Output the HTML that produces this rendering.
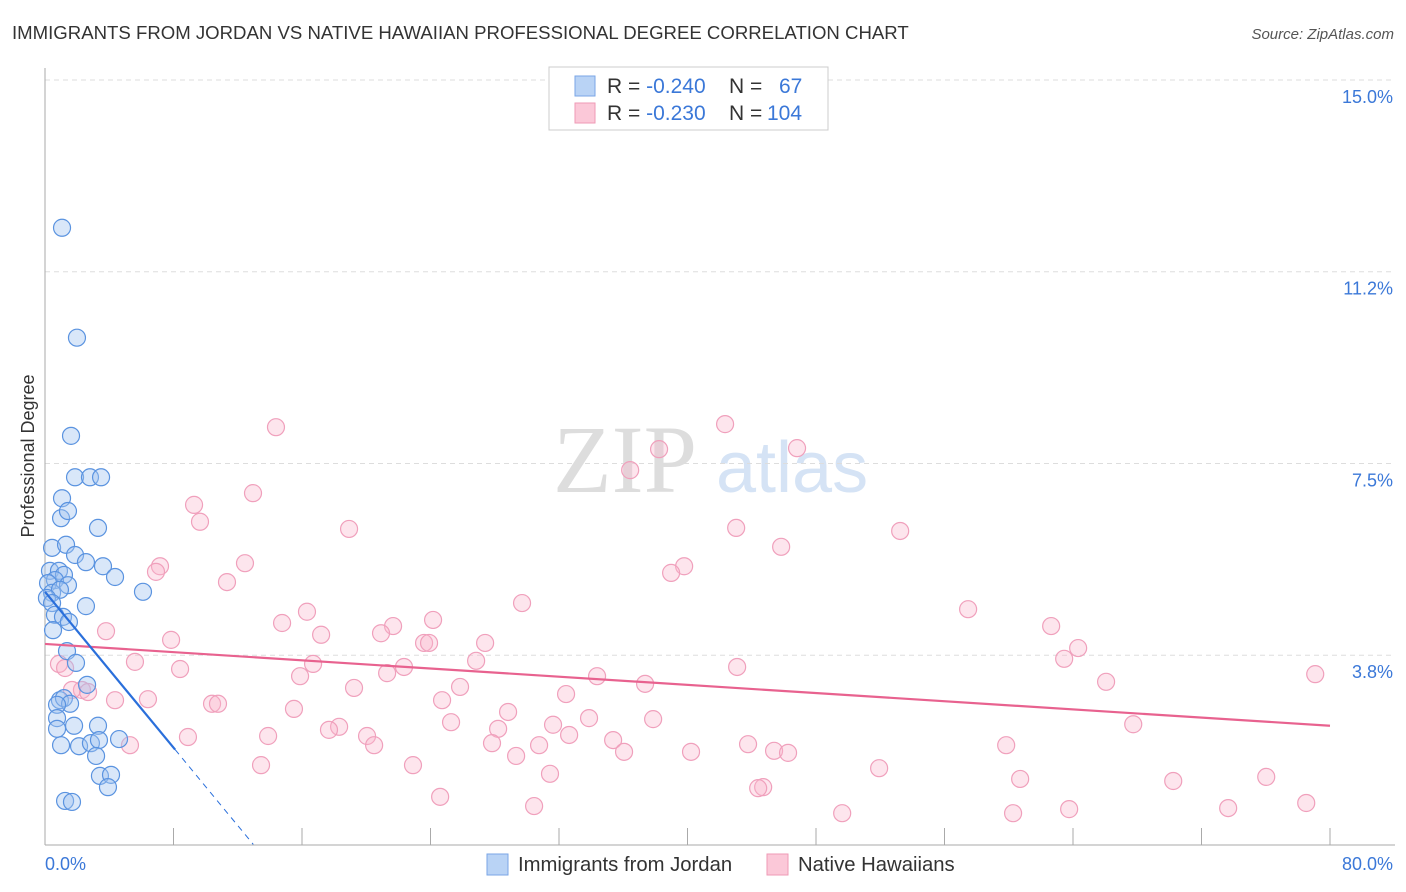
<!DOCTYPE html>
<html><head><meta charset="utf-8"><style>
body{margin:0;background:#fff;font-family:"Liberation Sans",sans-serif;}
svg{display:block}
</style></head><body>
<svg id="chart" width="1406" height="892">
<text x="12" y="39" font-size="18.6" fill="#333">IMMIGRANTS FROM JORDAN VS NATIVE HAWAIIAN PROFESSIONAL DEGREE CORRELATION CHART</text>
<text x="1394" y="39" font-size="15" fill="#555" font-style="italic" text-anchor="end">Source: ZipAtlas.com</text>
<g>
<text x="553" y="492" font-size="96" font-family="Liberation Serif,serif" fill="#ddd">ZIP</text>
<text x="716" y="492" font-size="72" fill="#d5e3f5">atlas</text>
</g>
<g id="grid"></g>
<g id="axes"></g>
<g id="pts"></g>
<g id="trend"></g>
<g>
<rect x="549" y="67" width="279" height="63" fill="#fff" stroke="#ccc"/>
<rect x="575" y="76" width="20" height="20" fill="#b9d3f5" stroke="#7aa6e6"/>
<rect x="575" y="103" width="20" height="20" fill="#fbc8d8" stroke="#ef9ab6"/>
<text x="607" y="93" font-size="21" fill="#333">R = <tspan fill="#3b78d8">-0.240</tspan><tspan x="729">N = </tspan><tspan x="779" fill="#3b78d8">67</tspan></text>
<text x="607" y="120" font-size="21" fill="#333">R = <tspan fill="#3b78d8">-0.230</tspan><tspan x="729">N = </tspan><tspan x="767" fill="#3b78d8">104</tspan></text>
</g>
<g>
<rect x="487" y="854" width="21" height="21" fill="#b9d3f5" stroke="#7aa6e6"/>
<text x="518" y="871" font-size="20.3" fill="#333">Immigrants from Jordan</text>
<rect x="767" y="854" width="21" height="21" fill="#fbc8d8" stroke="#ef9ab6"/>
<text x="798" y="871" font-size="20.3" fill="#333">Native Hawaiians</text>
</g>
<text transform="translate(34,456) rotate(-90)" font-size="18" fill="#333" text-anchor="middle">Professional Degree</text>
</svg>
<script>
const yTicks=[15.0,11.25,7.5,3.75];
const yTickLabels=["15.0%","11.2%","7.5%","3.8%"];
const xTickValues=[0,8,16,24,32,40,48,56,64,72,80];
const xLabels=["0.0%","80.0%"];
const blueX=[1.06,1.99,1.62,1.87,2.80,3.49,1.06,1.00,1.43,3.30,0.44,1.31,1.87,2.55,3.61,4.36,6.10,0.31,0.87,1.18,0.62,1.43,0.19,0.44,0.93,0.12,0.44,2.55,0.62,1.12,1.49,0.50,1.37,1.93,0.93,2.62,1.18,1.56,0.75,0.75,3.30,1.81,1.00,2.12,2.86,3.36,4.61,0.75,3.18,3.42,4.11,3.92,1.25,1.68];
const blueY=[12.11,9.96,8.04,7.23,7.23,7.23,6.82,6.43,6.57,6.24,5.85,5.91,5.71,5.57,5.49,5.28,4.99,5.40,5.40,5.32,5.22,5.12,5.16,4.97,5.03,4.87,4.77,4.71,4.54,4.50,4.40,4.24,3.83,3.60,2.87,3.17,2.91,2.80,2.78,2.52,2.37,2.37,1.99,1.97,2.03,2.09,2.11,2.31,1.78,1.39,1.41,1.17,0.90,0.88];
const pinkX=[14.38,42.34,38.23,46.82,36.43,9.28,12.95,9.65,18.93,43.03,53.24,45.83,12.45,7.16,6.91,39.79,38.98,11.33,29.70,57.47,16.31,24.16,14.76,21.67,17.19,20.92,62.64,3.80,7.85,23.60,23.91,27.40,64.32,63.45,16.69,22.35,21.30,26.84,5.60,8.41,0.87,1.25,43.09,15.88,34.37,79.08,37.36,66.06,25.84,19.24,2.30,2.68,1.68,4.36,6.41,24.72,32.44,10.40,10.77,15.50,37.86,31.63,33.87,28.83,25.28,28.21,18.31,17.68,67.75,20.05,32.63,8.90,13.89,35.37,27.83,43.77,20.49,30.76,59.84,5.29,40.22,45.39,46.26,36.05,29.33,22.91,13.45,51.93,31.44,60.71,70.24,76.03,44.71,44.40,24.60,63.76,78.52,73.66,30.45,49.63,60.27];
const pinkY=[8.21,8.27,7.78,7.80,7.37,6.69,6.92,6.36,6.22,6.24,6.18,5.87,5.55,5.49,5.38,5.49,5.36,5.18,4.77,4.65,4.60,4.44,4.38,4.32,4.15,4.18,4.32,4.22,4.05,3.99,3.99,3.99,3.89,3.68,3.58,3.52,3.40,3.64,3.62,3.48,3.58,3.50,3.52,3.34,3.34,3.38,3.19,3.23,3.13,3.11,3.07,3.03,3.07,2.87,2.89,2.87,2.99,2.80,2.80,2.70,2.50,2.39,2.52,2.64,2.44,2.31,2.35,2.29,2.40,2.17,2.19,2.15,2.17,2.09,2.03,2.01,1.99,1.99,1.99,1.99,1.86,1.88,1.84,1.86,1.78,1.60,1.60,1.54,1.43,1.33,1.29,1.37,1.17,1.15,0.98,0.74,0.86,0.76,0.80,0.66,0.66];
const blueTrend=[4.99,-0.381]; // intercept, slope
const blueSolidEnd=8.1;
const pinkTrend=[3.97,-0.02];
const NS="http://www.w3.org/2000/svg";
const sx=v=>45+v*16.0625;
const sy=v=>80+(15-v)*51.13;
function mk(tag,attrs,parent){const e=document.createElementNS(NS,tag);for(const k in attrs)e.setAttribute(k,attrs[k]);parent.appendChild(e);return e;}
const grid=document.getElementById('grid'),axes=document.getElementById('axes'),pts=document.getElementById('pts'),trend=document.getElementById('trend');
yTicks.forEach((t,i)=>{
 const l=mk('line',{x1:45,x2:1395,y1:sy(t),y2:sy(t),stroke:'#ddd','stroke-dasharray':'5,4'},grid);
 
 
 const tx=mk('text',{x:1393,y:sy(t)+23,'font-size':18,fill:'#3b78d8','text-anchor':'end'},grid);
 tx.textContent=yTickLabels[i];
 
 
});
const ya=mk('line',{x1:45,x2:45,y1:68,y2:845,stroke:'#aaa'},axes);


const xa=mk('line',{x1:45,x2:1395,y1:845,y2:845,stroke:'#aaa'},axes);


xTickValues.forEach(v=>{
 const t=mk('line',{x1:sx(v),x2:sx(v),y1:828,y2:845,stroke:'#aaa'},axes);
 
 
});
const xl0=mk('text',{x:45,y:870,'font-size':18,fill:'#3b78d8'},axes);xl0.textContent=xLabels[0];


const xl1=mk('text',{x:1393,y:870,'font-size':18,fill:'#3b78d8','text-anchor':'end'},axes);xl1.textContent=xLabels[1];


pinkX.forEach((x,i)=>{
 const c=mk('circle',{cx:sx(x),cy:sy(pinkY[i]),r:8.5,fill:'rgba(248,180,202,0.35)',stroke:'#f0a0bc','stroke-width':1.2},pts);
 
 
});
blueX.forEach((x,i)=>{
 const c=mk('circle',{cx:sx(x),cy:sy(blueY[i]),r:8.5,fill:'rgba(160,195,240,0.4)',stroke:'#5a93e0','stroke-width':1.2},pts);
 
 
});
const pl=mk('line',{x1:sx(0),y1:sy(pinkTrend[0]),x2:sx(80),y2:sy(pinkTrend[0]+pinkTrend[1]*80),stroke:'#e8628f','stroke-width':2.2},trend);


const bl=mk('line',{x1:sx(0),y1:sy(blueTrend[0]),x2:sx(blueSolidEnd),y2:sy(blueTrend[0]+blueTrend[1]*blueSolidEnd),stroke:'#2a6fdb','stroke-width':2.2},trend);


const xEnd=-(blueTrend[0]-0.05)/blueTrend[1];
const bd=mk('line',{x1:sx(blueSolidEnd),y1:sy(blueTrend[0]+blueTrend[1]*blueSolidEnd),x2:sx(xEnd),y2:sy(blueTrend[0]+blueTrend[1]*xEnd),stroke:'#2a6fdb','stroke-width':1,'stroke-dasharray':'6,5'},trend);


</script>
</body></html>
